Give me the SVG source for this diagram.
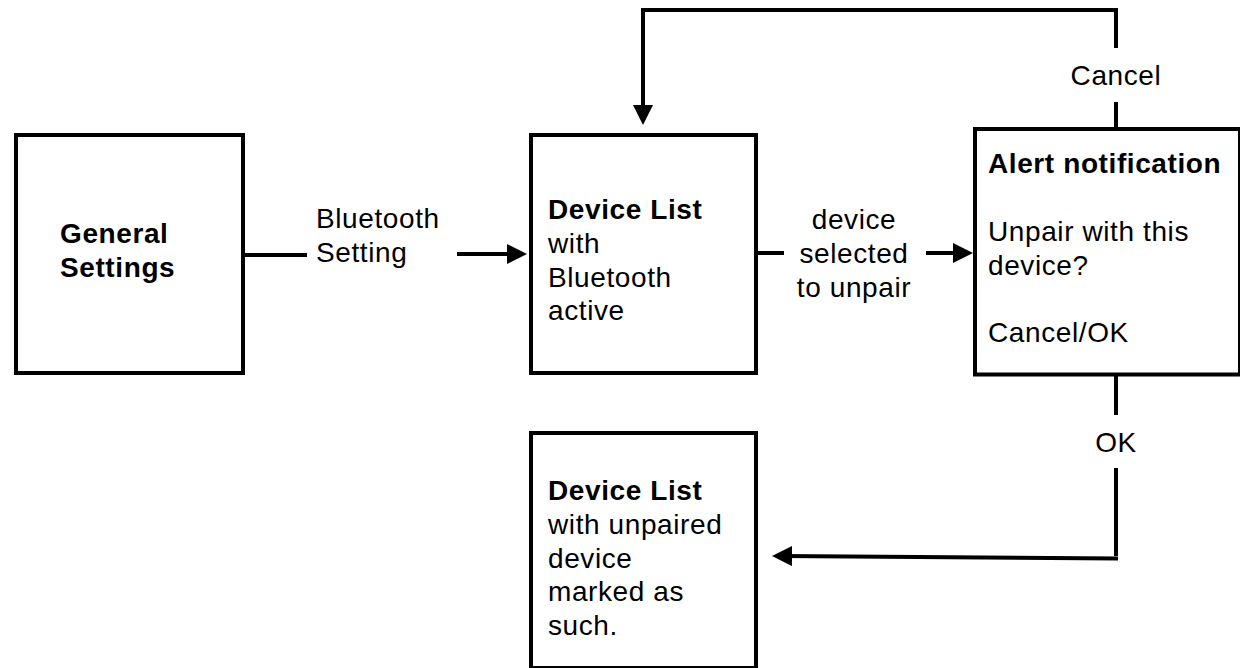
<svg xmlns="http://www.w3.org/2000/svg" width="1240" height="668" viewBox="0 0 1240 668">
<style>
  .box { fill: #ffffff; stroke: #000000; stroke-width: 4; }
  .edge { fill: none; stroke: #000000; stroke-width: 4; }
  text { font-family: "Liberation Sans", Arial, Helvetica, sans-serif; font-size: 28px; fill: #000000; letter-spacing: 0.6px; }
  .b { font-weight: bold; }
  .c { text-anchor: middle; }
</style>
<defs>
  <marker id="arrow" markerUnits="userSpaceOnUse" markerWidth="20" markerHeight="20" viewBox="0 0 20 20" refX="10" refY="10" orient="auto">
    <path d="M0,0 L20,10 L0,20 z" fill="#000000"/>
  </marker>
</defs>
<rect width="1240" height="668" fill="#ffffff"/>

<g id="connectors">
  <g id="edge-general-to-devicelist">
    <line class="edge" x1="243" y1="255" x2="307" y2="255"/>
    <line class="edge" x1="457" y1="254" x2="517" y2="254" marker-end="url(#arrow)"/>
    <text x="316" y="228">Bluetooth</text>
    <text x="316" y="262">Setting</text>
  </g>
  <g id="edge-devicelist-to-alert">
    <line class="edge" x1="756" y1="253" x2="784" y2="253"/>
    <line class="edge" x1="926" y1="253" x2="963" y2="253" marker-end="url(#arrow)"/>
    <text class="c" x="854" y="229">device</text>
    <text class="c" x="854" y="263">selected</text>
    <text class="c" x="854" y="297">to unpair</text>
  </g>
  <g id="edge-cancel">
    <polyline class="edge" points="1116,48 1116,10 643,10 643,115" marker-end="url(#arrow)"/>
    <line class="edge" x1="1116" y1="102" x2="1116" y2="129"/>
    <text class="c" x="1116" y="85">Cancel</text>
  </g>
  <g id="edge-ok">
    <line class="edge" x1="1116" y1="374" x2="1116" y2="415"/>
    <polyline class="edge" points="1116,468 1116,556"/>
    <line class="edge" x1="1118" y1="558.5" x2="782" y2="556" marker-end="url(#arrow)"/>
    <text class="c" x="1116" y="452">OK</text>
  </g>
</g>

<g id="node-general-settings">
  <rect class="box" x="16" y="135" width="227" height="238"/>
  <text class="b" x="60" y="243">General</text>
  <text class="b" x="60" y="277">Settings</text>
</g>

<g id="node-device-list">
  <rect class="box" x="531" y="135" width="225" height="238"/>
  <text class="b" x="548" y="219">Device List</text>
  <text x="548" y="253">with</text>
  <text x="548" y="287">Bluetooth</text>
  <text x="548" y="320">active</text>
</g>

<g id="node-alert">
  <rect class="box" x="975" y="129" width="265" height="245.5"/>
  <text class="b" x="988" y="173">Alert notification</text>
  <text x="988" y="241">Unpair with this</text>
  <text x="988" y="275">device?</text>
  <text x="988" y="342">Cancel/OK</text>
</g>

<g id="node-device-list-unpaired">
  <rect class="box" x="531" y="433" width="225" height="235"/>
  <text class="b" x="548" y="500">Device List</text>
  <text x="548" y="534">with unpaired</text>
  <text x="548" y="568">device</text>
  <text x="548" y="601">marked as</text>
  <text x="548" y="635">such.</text>
</g>
</svg>
